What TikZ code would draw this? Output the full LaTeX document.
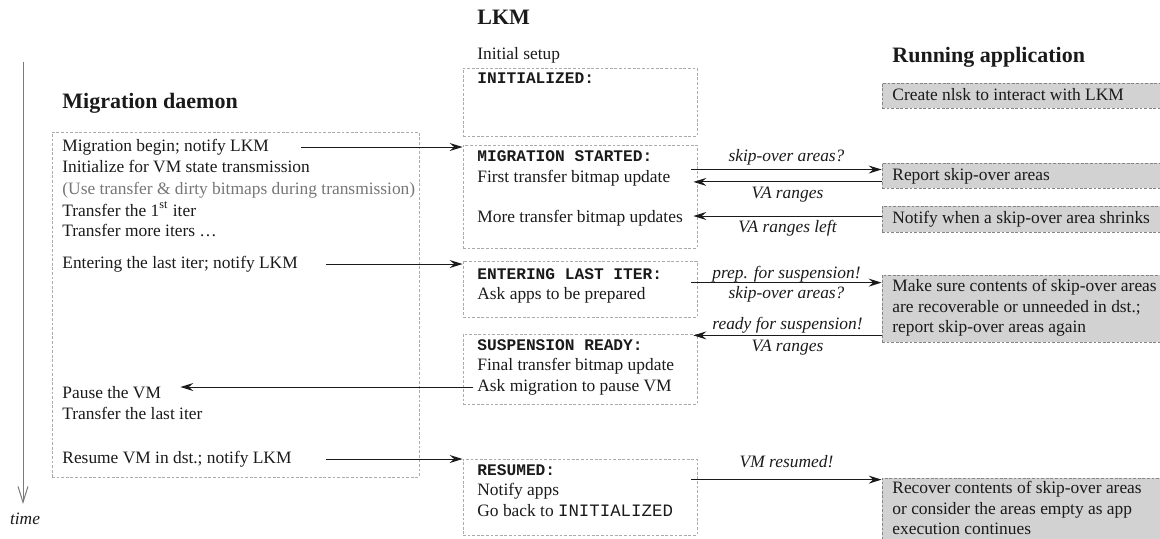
\documentclass[tikz,border=0pt]{standalone}
\usepackage{fontspec}
\setmainfont{Liberation Serif}
\setmonofont{Liberation Mono}
\usetikzlibrary{arrows.meta,fit}

\definecolor{framegray}{HTML}{ABABAB}
\definecolor{appfill}{HTML}{D3D2D2}
\definecolor{appedge}{HTML}{858585}
\definecolor{notegray}{HTML}{767676}
\definecolor{axisgray}{HTML}{7A7A7A}
\definecolor{ink}{HTML}{1A1A1A}

\begin{document}
\begin{tikzpicture}[x=0.5pt,y=-0.5pt,
  bodytxt/.style={anchor=west,inner sep=0pt,text=ink,font=\fontsize{8.7}{10.5}\selectfont,text height=6.1pt,text depth=1.8pt},
  stname/.style={bodytxt,font=\fontsize{8.1}{10}\selectfont\ttfamily\bfseries},
  coltitle/.style={anchor=west,inner sep=0pt,text=ink,font=\fontsize{11}{13}\selectfont\bfseries},
  msglab/.style={inner sep=0pt,text=ink,font=\fontsize{8.7}{10.5}\selectfont\itshape,text height=6.1pt,text depth=1.8pt},
  lkmframe/.style={draw=framegray,line width=0.4pt,dash pattern=on 1.4pt off 0.9pt,inner sep=0pt},
  appframe/.style={lkmframe,draw=appedge,fill=appfill},
  flow/.style={draw=ink,line width=0.5pt,-{Stealth[length=6.5pt,width=4pt,inset=2.3pt]}}
]
\clip (0,0) rectangle (1160,538);

% ---------- time axis ----------
\coordinate (tstart) at (23,62);
\coordinate (tend) at (23,504);
\draw[axisgray,line width=0.5pt,-{Straight Barb[length=8pt,width=5pt]}] (tstart) -- (tend);
\node[msglab] (tlab) at (25,520) {time};

% ---------- migration daemon ----------
\node[coltitle] (dtitle) at (62,103) {Migration daemon};
\node[lkmframe,fit={(52,132) (419,477)}] (dbox) {};
\node[bodytxt] (d1) at (62,147) {Migration begin; notify LKM};
\node[bodytxt] (d2) at (62,168) {Initialize for VM state transmission};
\node[bodytxt,text=notegray] (d3) at (62,190) {(Use transfer \& dirty bitmaps during transmission)};
\node[bodytxt] (d4) at (62,212) {Transfer the 1\textsuperscript{st} iter};
\node[bodytxt] (d5) at (62,232) {Transfer more iters …};
\node[bodytxt] (d6) at (62,264) {Entering the last iter; notify LKM};
\node[bodytxt] (d7) at (62,394) {Pause the VM};
\node[bodytxt] (d8) at (62,415) {Transfer the last iter};
\node[bodytxt] (d9) at (62,459) {Resume VM in dst.; notify LKM};

% ---------- LKM ----------
\node[coltitle] (ltitle) at (477,17) {LKM};
\node[bodytxt] (isetup) at (477,55) {Initial setup};

\node[lkmframe,fit={(463,68) (697,136)}] (ibox) {};
\node[stname] (i1) at (477,79) {INITIALIZED:};

\node[lkmframe,fit={(463,145) (697,248)}] (msbox) {};
\node[stname] (m1) at (477,157) {MIGRATION STARTED:};
\node[bodytxt] (m2) at (477,178) {First transfer bitmap update};
\node[bodytxt] (m3) at (477,218) {More transfer bitmap updates};

\node[lkmframe,fit={(463,261) (697,317)}] (elbox) {};
\node[stname] (e1) at (477,275) {ENTERING LAST ITER:};
\node[bodytxt] (e2) at (477,295) {Ask apps to be prepared};

\node[lkmframe,fit={(463,334) (697,404)}] (srbox) {};
\node[stname] (s1) at (477,346) {SUSPENSION READY:};
\node[bodytxt] (s2) at (477,366) {Final transfer bitmap update};
\node[bodytxt] (s3) at (477,387) {Ask migration to pause VM};

\node[lkmframe,fit={(463,459) (697,535)}] (rbox) {};
\node[stname] (r1) at (477,471) {RESUMED:};
\node[bodytxt] (r2) at (477,491) {Notify apps};
\node[bodytxt] (r3) at (477,512) {Go back to \texttt{INITIALIZED}};

% ---------- running application ----------
\node[coltitle] (atitle) at (892,57) {Running application};

\node[appframe,fit={(882,83) (1175,108)}] (nlbox) {};
\node[bodytxt] (a1) at (892,96) {Create nlsk to interact with LKM};

\node[appframe,fit={(882,163) (1175,188)}] (rpbox) {};
\node[bodytxt] (a2) at (892,176) {Report skip-over areas};

\node[appframe,fit={(882,206) (1175,232)}] (nfbox) {};
\node[bodytxt] (a3) at (892,219) {Notify when a skip-over area shrinks};

\node[appframe,fit={(882,275) (1175,342)}] (mkbox) {};
\node[bodytxt] (a4) at (892,287) {Make sure contents of skip-over areas};
\node[bodytxt] (a5) at (892,308) {are recoverable or unneeded in dst.;};
\node[bodytxt] (a6) at (892,328) {report skip-over areas again};

\node[appframe,fit={(882,478) (1175,560)}] (rcbox) {};
\node[bodytxt] (a7) at (892,489) {Recover contents of skip-over areas};
\node[bodytxt] (a8) at (892,510) {or consider the areas empty as app};
\node[bodytxt] (a9) at (892,530) {execution continues};

% ---------- daemon <-> LKM ----------
\draw[flow] ([xshift=16pt]d1.east) -- (msbox.west |- d1.east);
\draw[flow] ([xshift=14pt]d6.east) -- (elbox.west |- d6.east);
\draw[flow] ([xshift=-2pt]s3.west) -- ([xshift=9.5pt]d7.east |- s3.west);
\draw[flow] ([xshift=17pt]d9.east) -- (rbox.west |- d9.east);

% ---------- LKM <-> application ----------
\coordinate (q1) at ([yshift=3pt]rpbox.west);
\coordinate (q2) at ([yshift=-3.2pt]rpbox.west);
\coordinate (q3) at ([yshift=1.5pt]nfbox.west);
\coordinate (q4) at ([yshift=-4pt]mkbox.north west);
\coordinate (q5) at ([yshift=3.5pt]mkbox.south west);
\coordinate (q6) at ([yshift=-1pt]rcbox.north west);

\draw[flow] ([xshift=-3pt]msbox.east |- q1) -- node[msglab,yshift=6pt] (l1) {skip-over areas?} (q1);
\draw[flow] (q2) -- node[msglab,yshift=-6pt] (l2) {VA ranges} ([xshift=-2pt]msbox.east |- q2);
\draw[flow] (q3) -- node[msglab,yshift=-6pt] (l3) {VA ranges left} ([xshift=-2pt]msbox.east |- q3);
\draw[flow] ([xshift=-3pt]elbox.east |- q4) -- node[msglab,yshift=4pt] (l4) {prep. for suspension!}
  node[msglab,yshift=-6pt] (l5) {skip-over areas?} (q4);
\draw[flow] (q5) -- node[msglab,yshift=5pt] (l6) {ready for suspension!}
  node[msglab,yshift=-6pt] (l7) {VA ranges} ([xshift=-2pt]srbox.east |- q5);
\draw[flow] ([xshift=-3pt]rbox.east |- q6) -- node[msglab,yshift=8pt] (l8) {VM resumed!} (q6);
\end{tikzpicture}
\end{document}
